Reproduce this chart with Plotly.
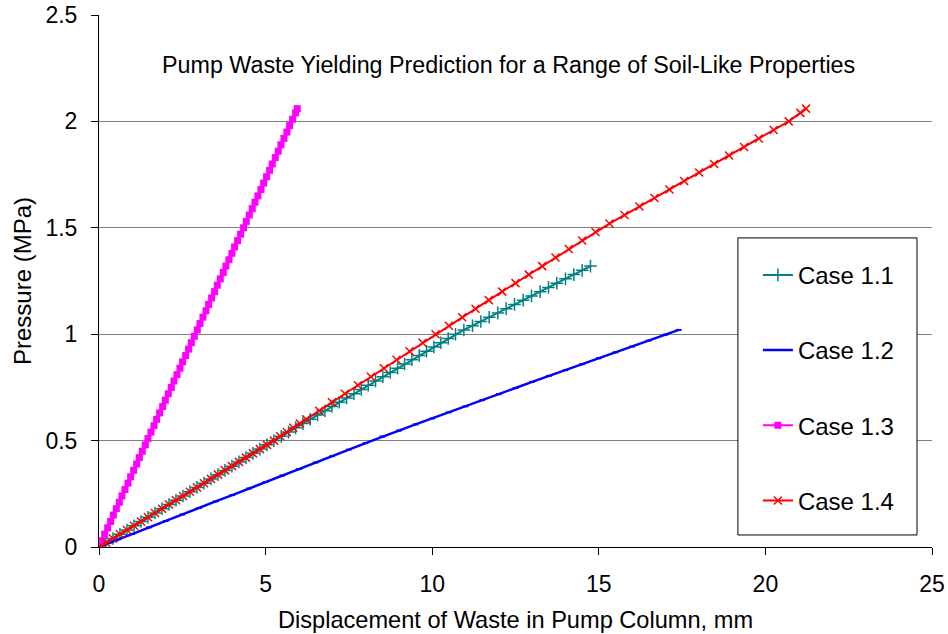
import plotly.graph_objects as go

# ---- data ----
case11_x = [0.00, 0.21, 0.42, 0.63, 0.84, 1.05, 1.26, 1.47, 1.68, 1.89, 2.10, 2.31, 2.52, 2.73, 2.94,
            3.15, 3.36, 3.57, 3.78, 3.99, 4.20, 4.41, 4.62, 4.83, 5.04, 5.25,
            5.47, 5.69, 5.90, 6.12, 6.34, 6.56, 6.78, 6.99, 7.21, 7.43, 7.65, 7.87, 8.08, 8.30,
            8.52, 8.74, 8.96, 9.17, 9.39, 9.61, 9.83, 10.05, 10.26, 10.48, 10.70,
            10.95, 11.21, 11.46, 11.71, 11.97, 12.22, 12.47, 12.73, 12.98, 13.24, 13.49, 13.74,
            14.00, 14.25, 14.50, 14.75]
case11_y = [0.00, 0.02, 0.04, 0.06, 0.08, 0.10, 0.12, 0.14, 0.16, 0.18, 0.20, 0.22, 0.24, 0.26, 0.28,
            0.30, 0.32, 0.34, 0.36, 0.38, 0.40, 0.42, 0.44, 0.46, 0.48, 0.50,
            0.52, 0.54, 0.56, 0.58, 0.60, 0.62, 0.64, 0.66, 0.68, 0.70, 0.72, 0.74, 0.76, 0.78,
            0.80, 0.82, 0.84, 0.86, 0.88, 0.90, 0.92, 0.94, 0.96, 0.98, 1.00,
            1.02, 1.04, 1.06, 1.08, 1.10, 1.12, 1.14, 1.16, 1.18, 1.20, 1.22, 1.24,
            1.26, 1.28, 1.30, 1.32]

case12_x = [0.0, 0.5, 1.0, 1.5, 2.0, 2.5, 3.0, 3.5, 4.0, 4.5, 5.0, 5.5, 6.0, 6.5, 7.0, 7.5, 8.0, 8.5,
            9.0, 9.5, 10.0, 10.5, 11.0, 11.5, 12.0, 12.5, 13.0, 13.5, 14.0, 14.5, 15.0, 15.5,
            16.0, 16.5, 17.0, 17.4]
case12_y = [0.000, 0.031, 0.061, 0.092, 0.122, 0.153, 0.183, 0.214, 0.244, 0.275, 0.305, 0.336,
            0.366, 0.397, 0.427, 0.458, 0.488, 0.519, 0.547, 0.576, 0.604, 0.633, 0.661, 0.690,
            0.718, 0.747, 0.776, 0.804, 0.831, 0.859, 0.887, 0.915, 0.942, 0.970, 0.998, 1.020]

case13_x = [0.00, 0.09, 0.17, 0.26, 0.35, 0.43, 0.52, 0.61, 0.69, 0.78, 0.87, 0.95, 1.04, 1.13,
            1.21, 1.30, 1.39, 1.47, 1.56, 1.65, 1.73, 1.82, 1.91, 1.99, 2.08, 2.17, 2.25, 2.34,
            2.43, 2.51, 2.60, 2.69, 2.77, 2.86, 2.95, 3.03, 3.12, 3.21, 3.29, 3.38, 3.47, 3.55,
            3.64, 3.73, 3.81, 3.90, 3.99, 4.07, 4.16, 4.25, 4.34, 4.42, 4.51, 4.60, 4.68, 4.77,
            4.86, 4.94, 5.03, 5.12, 5.20, 5.29, 5.38, 5.46, 5.55, 5.64, 5.72, 5.81, 5.90, 5.95]
case13_y = [0.00, 0.03, 0.06, 0.09, 0.12, 0.15, 0.18, 0.21, 0.24, 0.27, 0.30, 0.33, 0.36, 0.39,
            0.42, 0.45, 0.48, 0.51, 0.54, 0.57, 0.60, 0.63, 0.66, 0.69, 0.72, 0.75, 0.78, 0.81,
            0.84, 0.87, 0.90, 0.93, 0.96, 0.99, 1.02, 1.05, 1.08, 1.11, 1.14, 1.17, 1.20, 1.23,
            1.26, 1.29, 1.32, 1.35, 1.38, 1.41, 1.44, 1.47, 1.50, 1.53, 1.56, 1.59, 1.62, 1.65,
            1.68, 1.71, 1.74, 1.77, 1.80, 1.83, 1.86, 1.89, 1.92, 1.95, 1.98, 2.01, 2.04, 2.06]

case14_x = [0.00, 0.21, 0.42, 0.63, 0.84, 1.05, 1.26, 1.47, 1.68, 1.89, 2.10, 2.31, 2.52, 2.73, 2.94,
            3.15, 3.36, 3.57, 3.78, 3.99, 4.20, 4.41, 4.62, 4.83, 5.04, 5.25,
            5.44, 5.64, 5.83, 6.03, 6.22, 6.61, 6.99, 7.38, 7.77, 8.16, 8.55, 8.93, 9.32, 9.71, 10.10,
            10.50, 10.90, 11.30, 11.70, 12.10, 12.50, 12.90, 13.30, 13.70, 14.10, 14.50, 14.90,
            15.32, 15.77, 16.22, 16.67, 17.12, 17.56, 18.01, 18.46, 18.91, 19.36, 19.80, 20.25,
            20.70, 21.05, 21.22]
case14_y = [0.00, 0.02, 0.04, 0.06, 0.08, 0.10, 0.12, 0.14, 0.16, 0.18, 0.20, 0.22, 0.24, 0.26, 0.28,
            0.30, 0.32, 0.34, 0.36, 0.38, 0.40, 0.42, 0.44, 0.46, 0.48, 0.50,
            0.52, 0.54, 0.56, 0.58, 0.60, 0.64, 0.68, 0.72, 0.76, 0.80, 0.84, 0.88, 0.92, 0.96, 1.00,
            1.04, 1.08, 1.12, 1.16, 1.20, 1.24, 1.28, 1.32, 1.36, 1.40, 1.44, 1.48,
            1.52, 1.56, 1.60, 1.64, 1.68, 1.72, 1.76, 1.80, 1.84, 1.88, 1.92, 1.96,
            2.00, 2.04, 2.06]

series_names = ["Case 1.1", "Case 1.2", "Case 1.3", "Case 1.4"]
x_ticks = [0, 5, 10, 15, 20, 25]
y_ticks = [0, 0.5, 1, 1.5, 2, 2.5]

chart_title = "Pump Waste Yielding Prediction for a Range of Soil-Like Properties"
x_title = "Displacement of Waste in Pump Column, mm"
y_title = "Pressure (MPa)"

FONT = "Liberation Sans, Arial, sans-serif"

fig = go.Figure()
fig.add_trace(go.Scatter(
    x=case11_x, y=case11_y, name=series_names[0], legendgroup="a",
    mode="lines+markers",
    line=dict(color="#008080", width=2),
    marker=dict(symbol="cross-thin-open", size=9, color="#008080",
                line=dict(color="#008080", width=1.5)),
))
fig.add_trace(go.Scatter(
    x=case12_x, y=case12_y, name=series_names[1], legendgroup="b",
    mode="lines+markers",
    line=dict(color="#0000FF", width=2.5),
    marker=dict(symbol="line-ew-open", size=4, color="#0000FF",
                line=dict(color="#0000FF", width=2)),
))
fig.add_trace(go.Scatter(
    x=case13_x, y=case13_y, name=series_names[2], legendgroup="c",
    mode="lines+markers",
    line=dict(color="#FF00FF", width=2),
    marker=dict(symbol="square", size=7, color="#FF00FF"),
))
fig.add_trace(go.Scatter(
    x=case14_x, y=case14_y, name=series_names[3], legendgroup="d",
    mode="lines+markers",
    line=dict(color="#FF0000", width=2),
    marker=dict(symbol="x-thin-open", size=8, color="#FF0000",
                line=dict(color="#FF0000", width=1.5)),
))

# legend frame (white box that interrupts the gridlines)
fig.add_shape(type="rect", xref="paper", yref="paper",
              x0=0.767, x1=0.982, y0=0.0226, y1=0.581,
              line=dict(color="black", width=1), fillcolor="white", layer="above")

fig.add_annotation(text=chart_title, xref="paper", yref="paper",
                   x=0.491, y=0.934, showarrow=False,
                   font=dict(family=FONT, size=23.3, color="black"))

fig.update_layout(
    width=948, height=634,
    margin=dict(l=99, r=16, t=15, b=87),
    paper_bgcolor="white", plot_bgcolor="white",
    font=dict(family=FONT, size=23, color="black"),
    showlegend=True,
    legend=dict(x=0.791, y=0.553, xanchor="left", yanchor="top",
                bgcolor="rgba(0,0,0,0)", borderwidth=0,
                font=dict(family=FONT, size=24, color="black"),
                tracegroupgap=41, itemwidth=30),
    xaxis=dict(range=[0, 25], tickvals=x_ticks, ticks="outside", ticklen=7,
               tickcolor="black", showline=True, linecolor="black", linewidth=1,
               showgrid=False, zeroline=False, automargin=False,
               ticklabelstandoff=9,
               title=dict(text=x_title, standoff=15, font=dict(size=23.6))),
    yaxis=dict(range=[0, 2.5], tickvals=y_ticks, ticks="outside", ticklen=7,
               tickcolor="black", showline=True, linecolor="black", linewidth=1,
               showgrid=True, gridcolor="#808080", gridwidth=1, zeroline=False,
               automargin=False, ticklabelstandoff=9,
               title=dict(text=y_title, standoff=7, font=dict(size=24))),
)

fig.write_html("out.html")
